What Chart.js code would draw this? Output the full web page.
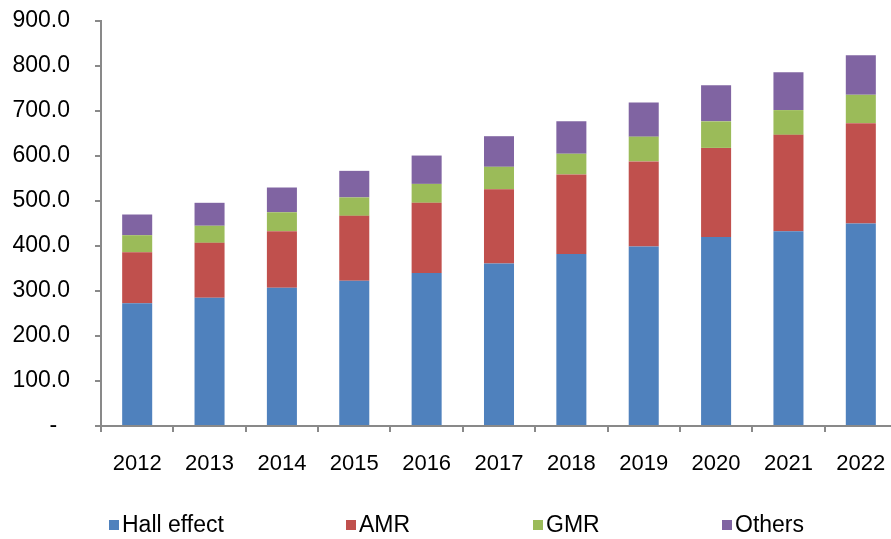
<!DOCTYPE html>
<html>
<head>
<meta charset="utf-8">
<script src="https://cdn.jsdelivr.net/npm/chart.js@4/dist/chart.umd.min.js"></script>
<style>
  html, body { margin: 0; padding: 0; background: #fff; overflow: hidden; width: 891px; height: 539px; }
  #wrap { position: absolute; left: 0; top: 0; width: 897px; height: 539px; }
  #legend { position: absolute; left: 0; top: 0; width: 891px; height: 539px; pointer-events: none;
            font-family: "Liberation Sans", Arial, sans-serif; font-size: 23px; color: #000; }
  .item { position: absolute; top: 509px; height: 30px; line-height: 30px; white-space: nowrap; }
  .box { display: inline-block; width: 10px; height: 10px; margin-right: 3px; vertical-align: middle; position: relative; top: -1px; }
</style>
</head>
<body>
<div id="wrap"><canvas id="c" width="897" height="539"></canvas></div>
<div id="legend"></div>
<script>
const categories = ['2012','2013','2014','2015','2016','2017','2018','2019','2020','2021','2022'];
const hallEffect = [273, 285, 307, 323, 340, 361, 382, 399, 420, 433, 450];
const amr        = [113, 122, 126, 144, 156, 165, 177, 189, 198, 214, 223];
const gmr        = [ 38,  38,  42,  41,  42,  50,  46,  55,  59,  55,  63];
const others     = [ 46,  51,  55,  59,  63,  68,  72,  76,  80,  84,  88];
const seriesNames = ['Hall effect', 'AMR', 'GMR', 'Others'];
const seriesColors = ['#4f81bd', '#c0504d', '#9bbb59', '#8064a2'];
const yMin = 0, yMax = 900, yStep = 100;

const FONT = '"Liberation Sans", Arial, sans-serif';
const AXIS = '#898989';
const seriesData = [hallEffect, amr, gmr, others];

const chart = new Chart(document.getElementById('c'), {
  type: 'bar',
  data: {
    labels: categories,
    datasets: seriesNames.map((n, i) => ({
      label: n,
      data: seriesData[i],
      backgroundColor: seriesColors[i],
      borderWidth: 0,
      categoryPercentage: 1.0,
      barPercentage: 0.415
    }))
  },
  options: {
    responsive: false,
    animation: false,
    devicePixelRatio: 1,
    layout: { padding: { top: 21, left: 0, right: 0, bottom: 0 } },
    plugins: { legend: { display: false }, tooltip: { enabled: false } },
    scales: {
      x: {
        stacked: true,
        afterFit: s => { s.height = 113; s.paddingLeft = 0; s.paddingRight = 0; },
        border: { color: AXIS, width: 2 },
        grid: { drawOnChartArea: false, drawTicks: true, tickLength: 6, color: AXIS, lineWidth: 2, offset: true },
        ticks: { color: '#000', font: { family: FONT, size: 22 }, padding: 19, maxRotation: 0, autoSkip: false }
      },
      y: {
        stacked: true,
        min: yMin, max: yMax,
        afterFit: s => { s.width = 101; s.paddingTop = 0; s.paddingBottom = 0; },
        border: { color: AXIS, width: 2 },
        grid: { drawOnChartArea: false, drawTicks: true, tickLength: 6, color: AXIS, lineWidth: 2 },
        ticks: {
          stepSize: yStep,
          color: '#000',
          font: { family: FONT, size: 23 },
          padding: 25,
          callback: v => v === 0 ? '-  ' : v.toFixed(1)
        }
      }
    }
  }
});

const legendX = [109, 346, 533, 722];
const leg = document.getElementById('legend');
seriesNames.forEach((n, i) => {
  const d = document.createElement('div');
  d.className = 'item';
  d.style.left = legendX[i] + 'px';
  d.innerHTML = '<span class="box" style="background:' + seriesColors[i] + '"></span>' + n;
  leg.appendChild(d);
});
</script>
</body>
</html>
